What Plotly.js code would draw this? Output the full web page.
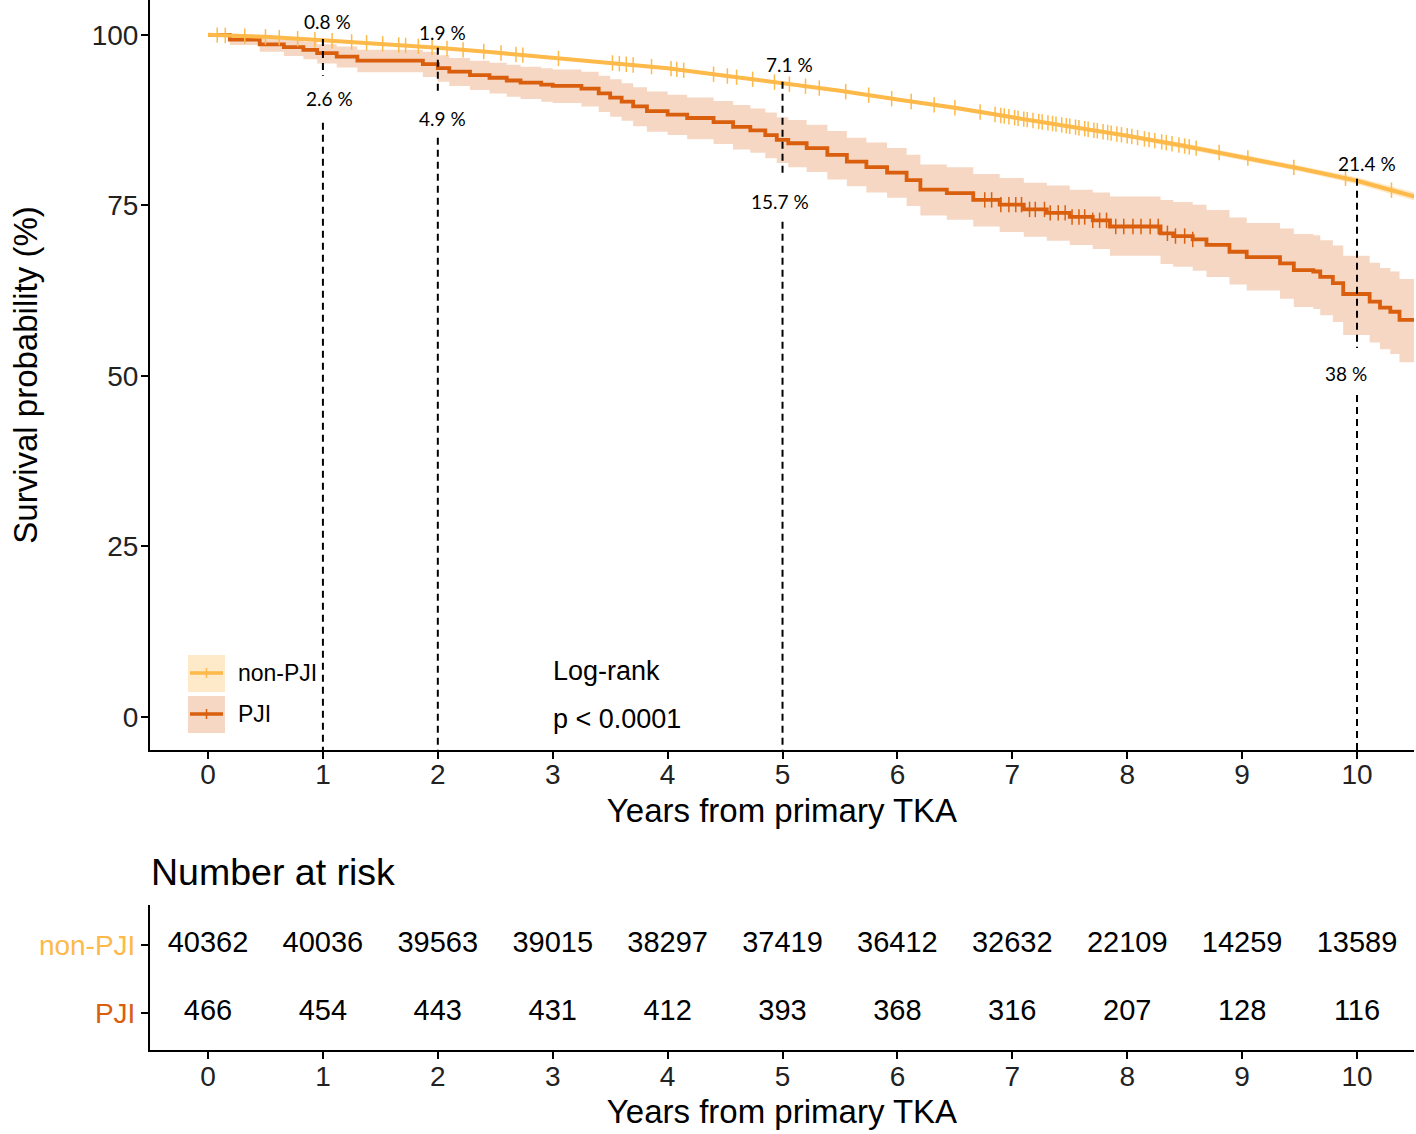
<!DOCTYPE html>
<html>
<head>
<meta charset="utf-8">
<script src="https://cdn.plot.ly/plotly-3.0.1.min.js"></script>
<style>html,body{margin:0;padding:0;background:#fff;}#chart{width:1416px;height:1134px;}</style>
</head>
<body>
<div id="chart"></div>
<script>
// ---------------- DATA ----------------
const groups = ['non-PJI', 'PJI'];

// non-PJI Kaplan-Meier estimate (years, survival %)
const nonTime = [0, 0.5, 1, 1.5, 2, 2.5, 3, 3.5, 4, 4.5, 5, 5.5, 6, 6.5, 7, 7.5, 8, 8.5, 9, 9.5, 10, 10.5];
const nonSurv = [100, 99.7, 99.2, 98.7, 98.1, 97.4, 96.6, 95.9, 95.1, 94.0, 92.9, 91.8, 90.5, 89.3, 87.9, 86.6, 85.2, 83.7, 82.1, 80.4, 78.6, 76.3];
const nonLower = [100, 99.6, 99.1, 98.6, 98.0, 97.3, 96.5, 95.7, 94.9, 93.8, 92.7, 91.6, 90.3, 89.0, 87.6, 86.3, 84.9, 83.3, 81.7, 80.0, 78.1, 75.7];
const nonUpper = [100, 99.8, 99.3, 98.8, 98.2, 97.5, 96.7, 96.1, 95.3, 94.2, 93.1, 92.0, 90.7, 89.6, 88.2, 86.9, 85.5, 84.1, 82.5, 80.8, 79.1, 76.9];
const nonCensor = [0.08, 0.15, 0.32, 0.5, 0.62, 0.78, 0.93, 1.08, 1.25, 1.38, 1.52, 1.66, 1.72, 1.83, 1.95, 2.08, 2.22, 2.4, 2.55, 2.68, 2.74, 3.05, 3.52, 3.58, 3.64, 3.7, 3.86, 4.03, 4.08, 4.14, 4.4, 4.52, 4.6, 4.74, 4.93, 5.06, 5.2, 5.32, 5.55, 5.75, 5.95, 6.12, 6.32, 6.5, 6.72, 6.85, 6.9, 6.93, 6.97, 7.02, 7.05, 7.1, 7.13, 7.18, 7.23, 7.26, 7.31, 7.35, 7.38, 7.43, 7.47, 7.5, 7.55, 7.58, 7.63, 7.66, 7.71, 7.74, 7.79, 7.83, 7.86, 7.91, 7.95, 8.0, 8.04, 8.09, 8.15, 8.19, 8.24, 8.3, 8.34, 8.39, 8.45, 8.5, 8.54, 8.6, 8.8, 9.05, 9.45, 9.9, 10.3];

// PJI Kaplan-Meier estimate with 95% CI
const pjiTime = [0, 0.19, 0.45, 0.66, 0.83, 0.95, 1.12, 1.30, 1.87, 2.0, 2.1, 2.28, 2.45, 2.6, 2.72, 2.9, 3.0, 3.25, 3.4, 3.5, 3.6, 3.7, 3.82, 4.0, 4.17, 4.4, 4.57, 4.72, 4.85, 4.95, 5.05, 5.21, 5.39, 5.56, 5.73, 5.91, 6.08, 6.2, 6.43, 6.66, 6.89, 7.1, 7.3, 7.5, 7.7, 7.85, 8.29, 8.4, 8.57, 8.69, 8.89, 9.04, 9.33, 9.45, 9.62, 9.68, 9.79, 9.88, 10.11, 10.2, 10.29, 10.37, 10.5];
const pjiSurv = [100, 99.3, 98.6, 98.2, 97.8, 97.3, 96.8, 96.2, 95.7, 95.1, 94.6, 94.1, 93.7, 93.3, 93.0, 92.7, 92.5, 92.1, 91.4, 90.8, 90.2, 89.5, 88.8, 88.3, 87.8, 87.2, 86.5, 86.0, 85.3, 84.6, 84.1, 83.4, 82.4, 81.4, 80.6, 79.8, 78.7, 77.3, 76.8, 75.8, 75.1, 74.4, 73.9, 73.3, 72.8, 71.9, 70.9, 70.5, 70.0, 69.2, 68.2, 67.4, 66.5, 65.5, 65.3, 64.5, 63.6, 62.0, 60.9, 60.0, 59.4, 58.2, 58.2];
const pjiLower = [100, 98.5, 97.5, 96.9, 96.4, 95.8, 95.2, 94.5, 93.8, 93.1, 92.5, 91.9, 91.4, 90.9, 90.6, 90.2, 90.0, 89.5, 88.7, 88.0, 87.4, 86.6, 85.8, 85.3, 84.7, 84.0, 83.2, 82.7, 81.9, 81.2, 80.6, 79.9, 78.8, 77.8, 76.9, 76.1, 74.9, 73.5, 72.9, 71.9, 71.1, 70.4, 69.8, 69.2, 68.6, 67.6, 66.4, 66.0, 65.4, 64.5, 63.4, 62.5, 61.3, 60.1, 59.8, 58.9, 57.9, 56.0, 54.9, 53.9, 53.2, 52.0, 52.0];
const pjiUpper = [100, 100, 99.6, 99.3, 99.0, 98.6, 98.3, 97.8, 97.5, 97.0, 96.6, 96.2, 95.9, 95.6, 95.3, 95.1, 94.9, 94.6, 94.0, 93.5, 92.9, 92.3, 91.7, 91.2, 90.8, 90.3, 89.7, 89.2, 88.6, 87.9, 87.5, 86.8, 85.9, 84.9, 84.2, 83.4, 82.4, 81.0, 80.6, 79.6, 79.0, 78.3, 77.9, 77.3, 76.9, 76.3, 75.8, 75.5, 75.1, 74.3, 73.2, 72.4, 71.6, 70.8, 70.6, 69.9, 69.1, 67.6, 66.6, 65.8, 65.3, 64.2, 64.2];
const pjiCensor = [6.76, 6.82, 6.9, 6.97, 7.03, 7.08, 7.15, 7.2, 7.28, 7.33, 7.4, 7.46, 7.52, 7.58, 7.63, 7.7, 7.76, 7.82, 7.9, 7.97, 8.05, 8.12, 8.2, 8.27, 8.35, 8.42, 8.5, 8.57];

// reference lines & cumulative incidence labels
const markYears = [1, 2, 5, 10];
const nonLabels = ['0.8 %', '1.9 %', '7.1 %', '21.4 %'];
const pjiLabels = ['2.6 %', '4.9 %', '15.7 %', '38 %'];

// number at risk
const riskYears = [0, 1, 2, 3, 4, 5, 6, 7, 8, 9, 10];
const riskNon = [40362, 40036, 39563, 39015, 38297, 37419, 36412, 32632, 22109, 14259, 13589];
const riskPJI = [466, 454, 443, 431, 412, 393, 368, 316, 207, 128, 116];

// ---------------- STYLE ----------------
const nonCol = '#FDB94A';
const pjiCol = '#D95F0E';
const W = 1416, H = 1134, ML = 150, MR = 2;
const px = x => (x - ML) / (W - ML - MR);
const py = y => 1 - y / H;
const FONT = 'Liberation Sans, Arial, sans-serif';

function stepAt(ts, vs, t) { let i = 0; while (i + 1 < ts.length && ts[i + 1] <= t) i++; return vs[i]; }
function linAt(ts, vs, t) {
  for (let i = 0; i + 1 < ts.length; i++) {
    if (t >= ts[i] && t <= ts[i + 1]) { const f = (t - ts[i]) / (ts[i + 1] - ts[i]); return vs[i] + f * (vs[i + 1] - vs[i]); }
  }
  return vs[vs.length - 1];
}

const traces = [
  {x: pjiTime, y: pjiLower, mode: 'lines', line: {width: 0, shape: 'hv'}, showlegend: false, hoverinfo: 'skip'},
  {x: pjiTime, y: pjiUpper, mode: 'lines', line: {width: 0, shape: 'hv'}, fill: 'tonexty', fillcolor: 'rgba(217,95,14,0.25)', showlegend: false, hoverinfo: 'skip'},
  {x: nonTime, y: nonLower, mode: 'lines', line: {width: 0}, showlegend: false, hoverinfo: 'skip'},
  {x: nonTime, y: nonUpper, mode: 'lines', line: {width: 0}, fill: 'tonexty', fillcolor: 'rgba(253,185,74,0.3)', showlegend: false, hoverinfo: 'skip'},
  {x: pjiTime, y: pjiSurv, name: groups[1], mode: 'lines', line: {color: pjiCol, width: 3.8, shape: 'hv'}, showlegend: false},
  {x: nonTime, y: nonSurv, name: groups[0], mode: 'lines', line: {color: nonCol, width: 4}, showlegend: false},
  {x: pjiCensor, y: pjiCensor.map(t => stepAt(pjiTime, pjiSurv, t)), mode: 'markers', marker: {symbol: 'line-ns', size: 11, line: {color: pjiCol, width: 1.5}}, showlegend: false, hoverinfo: 'skip'},
  {x: nonCensor, y: nonCensor.map(t => linAt(nonTime, nonSurv, t)), mode: 'markers', marker: {symbol: 'line-ns', size: 11, line: {color: nonCol, width: 1.5}}, showlegend: false, hoverinfo: 'skip'},
  {x: riskYears, y: riskYears.map(() => 1), text: riskNon.map(String), mode: 'text', textposition: 'middle center', textfont: {family: FONT, size: 29, color: '#000'}, xaxis: 'x2', yaxis: 'y2', showlegend: false, hoverinfo: 'skip'},
  {x: riskYears, y: riskYears.map(() => 0), text: riskPJI.map(String), mode: 'text', textposition: 'middle center', textfont: {family: FONT, size: 29, color: '#000'}, xaxis: 'x2', yaxis: 'y2', showlegend: false, hoverinfo: 'skip'}
];

// dashed reference lines (segments with gaps for the labels)
const dashSegs = [
  [1, 99.4, 94.0], [1, 87.1, -4.84],
  [2, 98.1, 91.5], [2, 84.9, -4.84],
  [5, 93.1, 79.2], [5, 72.6, -4.84],
  [10, 78.9, 54.1], [10, 47.2, -4.84]
];
const shapes = dashSegs.map(s => ({type: 'line', xref: 'x', yref: 'y', x0: s[0], x1: s[0], y0: s[1], y1: s[2], line: {color: '#000', width: 2, dash: '7px,5px'}, layer: 'above'}));

// manual legend
shapes.push({type: 'rect', xref: 'paper', yref: 'paper', x0: px(188), x1: px(225), y0: py(692), y1: py(655), fillcolor: 'rgba(253,185,74,0.3)', line: {width: 0}});
shapes.push({type: 'rect', xref: 'paper', yref: 'paper', x0: px(188), x1: px(225), y0: py(733), y1: py(696), fillcolor: 'rgba(217,95,14,0.25)', line: {width: 0}});
shapes.push({type: 'line', xref: 'paper', yref: 'paper', x0: px(190), x1: px(223), y0: py(673), y1: py(673), line: {color: nonCol, width: 3.5}});
shapes.push({type: 'line', xref: 'paper', yref: 'paper', x0: px(190), x1: px(223), y0: py(714), y1: py(714), line: {color: pjiCol, width: 3.5}});
shapes.push({type: 'line', xref: 'paper', yref: 'paper', x0: px(206.5), x1: px(206.5), y0: py(668), y1: py(678), line: {color: nonCol, width: 1.5}});
shapes.push({type: 'line', xref: 'paper', yref: 'paper', x0: px(206.5), x1: px(206.5), y0: py(709), y1: py(719), line: {color: pjiCol, width: 1.5}});

const pctFont = {family: 'Lato, Open Sans, sans-serif', size: 19, color: '#000'};
const nonLabPos = [[1.044, 101.9], [2.045, 100.4], [5.065, 95.6], [10.09, 81.2]];
const pjiLabPos = [[1.053, 90.6], [2.045, 87.8], [4.98, 75.5], [9.90, 50.4]];
const annotations = [];
markYears.forEach((yr, i) => {
  annotations.push({xref: 'x', yref: 'y', x: nonLabPos[i][0], y: nonLabPos[i][1], text: nonLabels[i], showarrow: false, font: pctFont, xanchor: 'center', yanchor: 'middle'});
  annotations.push({xref: 'x', yref: 'y', x: pjiLabPos[i][0], y: pjiLabPos[i][1], text: pjiLabels[i], showarrow: false, font: pctFont, xanchor: 'center', yanchor: 'middle'});
});
annotations.push({xref: 'paper', yref: 'paper', x: px(236), y: py(673), text: groups[0], showarrow: false, xanchor: 'left', yanchor: 'middle', font: {family: FONT, size: 23, color: '#000'}});
annotations.push({xref: 'paper', yref: 'paper', x: px(236), y: py(714), text: groups[1], showarrow: false, xanchor: 'left', yanchor: 'middle', font: {family: FONT, size: 23, color: '#000'}});
annotations.push({xref: 'paper', yref: 'paper', x: px(551), y: py(671), text: 'Log-rank', showarrow: false, xanchor: 'left', yanchor: 'middle', font: {family: FONT, size: 27, color: '#000'}});
annotations.push({xref: 'paper', yref: 'paper', x: px(551), y: py(719), text: 'p &lt; 0.0001', showarrow: false, xanchor: 'left', yanchor: 'middle', font: {family: FONT, size: 27, color: '#000'}});
annotations.push({xref: 'paper', yref: 'paper', x: px(149), y: py(872), text: 'Number at risk', showarrow: false, xanchor: 'left', yanchor: 'middle', font: {family: FONT, size: 37.5, color: '#000'}});

const axisCommon = {showgrid: false, zeroline: false, showline: true, linecolor: '#000', linewidth: 2, ticks: 'outside', ticklen: 7, tickwidth: 2, tickcolor: '#000', automargin: false};

const layout = {
  width: W, height: H,
  margin: {l: ML, r: MR, t: 0, b: 0},
  paper_bgcolor: '#fff', plot_bgcolor: '#fff',
  font: {family: FONT, color: '#000'},
  showlegend: false,
  xaxis: Object.assign({}, axisCommon, {domain: [0, 1], anchor: 'y', range: [-0.505, 10.496], tickmode: 'array', tickvals: riskYears,
    ticklabelstandoff: -9,
    tickfont: {size: 28, color: '#222'}, title: {text: 'Years from primary TKA', font: {size: 33, color: '#000'}, standoff: 10}}),
  yaxis: Object.assign({}, axisCommon, {domain: [py(750), py(0)], anchor: 'x', range: [-4.84, 105.1], tickmode: 'array', tickvals: [0, 25, 50, 75, 100],
    ticklabelstandoff: -3,
    tickfont: {size: 28, color: '#222'}, title: {text: 'Survival probability (%)', font: {size: 33, color: '#000'}, standoff: 44}}),
  xaxis2: Object.assign({}, axisCommon, {domain: [0, 1], anchor: 'y2', range: [-0.505, 10.496], tickmode: 'array', tickvals: riskYears,
    ticklabelstandoff: -7,
    tickfont: {size: 28, color: '#222'}, title: {text: 'Years from primary TKA', font: {size: 33, color: '#000'}, standoff: 9}}),
  yaxis2: Object.assign({}, axisCommon, {domain: [py(1050), py(905)], anchor: 'x2', range: [-0.54, 1.59], tickmode: 'array', tickvals: [1, 0],
    ticktext: ['<span style="color:' + nonCol + '">' + groups[0] + '</span>', '<span style="color:' + pjiCol + '">' + groups[1] + '</span>'],
    tickfont: {size: 28}}),
  shapes: shapes,
  annotations: annotations
};

Plotly.newPlot('chart', traces, layout, {displayModeBar: false, staticPlot: true});
</script>
</body>
</html>
